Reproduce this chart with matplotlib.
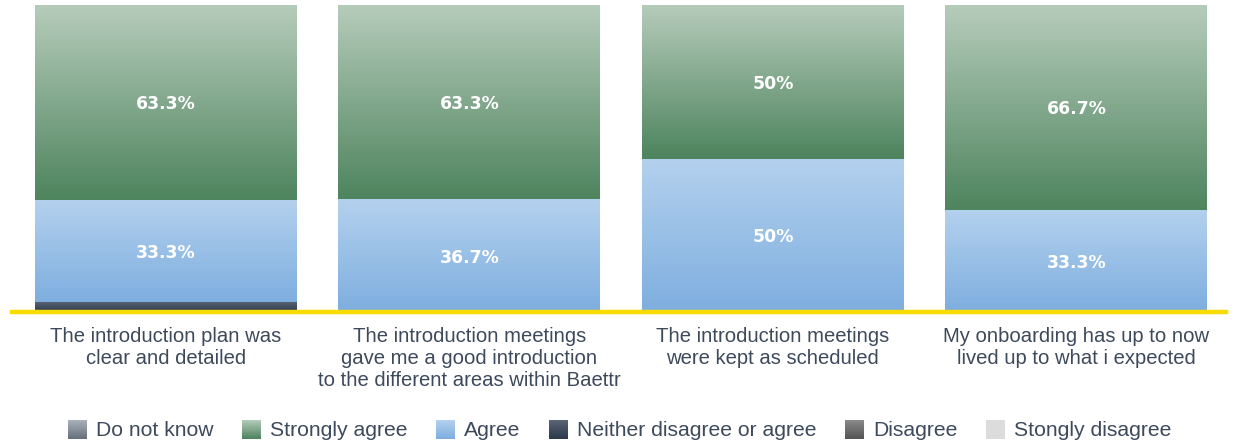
import numpy as np
import matplotlib
matplotlib.use("Agg")
import matplotlib.pyplot as plt
from matplotlib.colors import to_rgb
from matplotlib.patches import Rectangle, Patch
from matplotlib.legend_handler import HandlerBase

# Survey answers per statement (percent of respondents)
categories = [
    "The introduction plan was\nclear and detailed",
    "The introduction meetings\ngave me a good introduction\nto the different areas within Baettr",
    "The introduction meetings\nwere kept as scheduled",
    "My onboarding has up to now\nlived up to what i expected",
]
strongly_disagree = [0, 0, 0, 0]
disagree = [0, 0, 0, 0]
neither = [3.3, 0, 0, 0]
agree = [33.3, 36.7, 50, 33.3]
strongly_agree = [63.3, 63.3, 50, 66.7]
do_not_know = [0, 0, 0, 0]

legend_order = ["Do not know", "Strongly agree", "Agree",
                "Neither disagree or agree", "Disagree", "Stongly disagree"]

# (top colour, bottom colour) of each answer's vertical gradient
gradients = {
    "Stongly disagree": ("#dcdcdc", "#dcdcdc"),
    "Disagree": ("#8a8a8a", "#555555"),
    "Neither disagree or agree": ("#5a6575", "#2c3a4c"),
    "Agree": ("#b4d1ee", "#7eaedf"),
    "Strongly agree": ("#b6ccbb", "#4e845e"),
    "Do not know": ("#aab2bb", "#66707e"),
}

# stacking order, bottom to top
stack = [
    ("Stongly disagree", strongly_disagree),
    ("Disagree", disagree),
    ("Neither disagree or agree", neither),
    ("Agree", agree),
    ("Strongly agree", strongly_agree),
    ("Do not know", do_not_know),
]

TEXT = "#3d4a5c"
FONT = "Liberation Sans"


def ramp(name, n=256):
    top, bot = (np.array(to_rgb(c)) for c in gradients[name])
    t = np.linspace(0, 1, n)[:, None]
    return top * (1 - t) + bot * t


class GradientHandler(HandlerBase):
    def __init__(self, name, steps=40):
        super().__init__()
        self.name = name
        self.steps = steps

    def create_artists(self, legend, orig_handle, xdescent, ydescent,
                       width, height, fontsize, trans):
        cols = ramp(self.name, self.steps)
        side = min(width, height)
        x0 = -xdescent + (width - side) / 2
        y0 = -ydescent + (height - side) / 2
        h = side / self.steps
        arts = []
        for i, c in enumerate(cols):
            r = Rectangle((x0, y0 + side - (i + 1) * h), side, h * 1.05,
                          facecolor=c, edgecolor="none", transform=trans)
            arts.append(r)
        return arts


W, H = 1238, 444
fig = plt.figure(figsize=(W / 100, H / 100), dpi=100)
ax = fig.add_axes([12 / W, (H - 312) / H, (1226 - 12) / W, (312 - 5) / H])

x = np.arange(len(categories))
bar_w = 0.863
bottom = np.zeros(len(categories))
for name, vals in stack:
    vals = np.asarray(vals, dtype=float)
    bars = ax.bar(x, vals, bar_w, bottom=bottom, color=gradients[name][1],
                  edgecolor="none", zorder=2)
    img = ramp(name)[:, None, :]
    for rect, v in zip(bars, vals):
        if v <= 0:
            continue
        x0, y0 = rect.get_x(), rect.get_y()
        im = ax.imshow(img, extent=[x0, x0 + rect.get_width(), y0, y0 + v],
                       aspect="auto", interpolation="bilinear", zorder=3)
        im.set_clip_path(rect)
        if v >= 10:
            ax.text(rect.get_x() + rect.get_width() / 2, y0 + v / 2 - 0.6,
                    f"{v:g}%", ha="center", va="center", color="white",
                    fontsize=12.4, fontweight="bold", family="DejaVu Sans",
                    zorder=4)
    bottom += vals

ax.set_xlim(-0.507, len(categories) - 0.507)
ax.set_ylim(0, 100)
ax.set_yticks([])
ax.set_xticks(x)
ax.set_xticklabels(categories, fontsize=14.6, color=TEXT, family=FONT,
                   linespacing=1.2)
ax.tick_params(axis="x", length=0, pad=11)
for s in ("top", "right", "left"):
    ax.spines[s].set_visible(False)
ax.spines["bottom"].set_color("#f7dc00")
ax.spines["bottom"].set_linewidth(3.2)
ax.spines["bottom"].set_zorder(5)

handles = [Patch(label=n) for n in legend_order]
fig.legend(handles=handles, labels=legend_order, loc="center",
           bbox_to_anchor=(0.5, 14 / H), ncol=6, frameon=False,
           handler_map={h: GradientHandler(n) for h, n in zip(handles, legend_order)},
           prop={"family": FONT, "size": 15.2}, labelcolor=TEXT,
           handlelength=1.0, handleheight=1.0, handletextpad=0.38,
           columnspacing=1.3, borderpad=0, borderaxespad=0)

fig.savefig("out.png", dpi=100)
